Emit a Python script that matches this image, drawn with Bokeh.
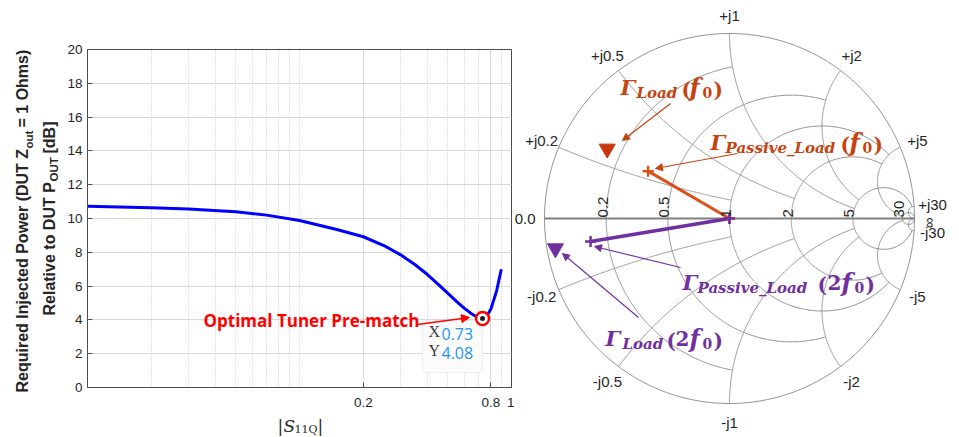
import numpy as np
from bokeh.plotting import figure
from bokeh.models import (Range1d, FixedTicker, Label, Arrow, NormalHead,
                          BoxAnnotation, CustomJSTickFormatter)
from bokeh.layouts import row, column
from bokeh.embed import file_html
from bokeh.resources import INLINE

# ---------------- data: left panel ----------------
s11q = [0.010, 0.020, 0.030, 0.050, 0.070, 0.100, 0.150, 0.200, 0.250, 0.300,
        0.350, 0.400, 0.450, 0.500, 0.550, 0.600, 0.650, 0.700, 0.730, 0.760,
        0.800, 0.850, 0.895]
p_inj = [10.72, 10.64, 10.56, 10.40, 10.20, 9.88, 9.35, 8.92, 8.40, 7.85,
         7.28, 6.70, 6.12, 5.58, 5.10, 4.68, 4.35, 4.12, 4.08, 4.18,
         4.65, 5.70, 7.00]
opt_x = [0.73]
opt_y = [4.08]
y_ticks = [0, 2, 4, 6, 8, 10, 12, 14, 16, 18, 20]
x_ticks = [0.2, 0.8, 1.0]
x_minor = [0.02, 0.03, 0.04, 0.05, 0.06, 0.07, 0.08, 0.09, 0.1,
           0.3, 0.4, 0.5, 0.6, 0.7, 0.9]

# ---------------- data: Smith chart ----------------
smith_values = [0.2, 0.5, 1, 2, 5, 30]
smith_limits = [1, 2, 5, 5, 30, np.inf]
gamma_passive_f0 = [-0.440, 0.256]
gamma_load_f0 = [-0.661, 0.377]
gamma_passive_2f0 = [-0.751, -0.124]
gamma_load_2f0 = [-0.941, -0.162]

AX = "#4d4d4d"
TXT = "#262626"
ORANGE_LINE = "#D95319"
ORANGE_TXT = "#C5430F"
ORANGE_MK = "#C8360A"
PURPLE = "#7030A0"

PAGE_H = 436


def blank(x0, x1, y0, y1, bl=0, br=0):
    """figure whose data coordinates are page pixels (y downward)"""
    f = figure(width=(x1 - x0) + bl + br, height=y1 - y0,
               frame_width=x1 - x0, frame_height=y1 - y0,
               x_range=Range1d(x0, x1), y_range=Range1d(y1, y0),
               output_backend="svg", toolbar_location=None, title=None,
               x_axis_location=None, y_axis_location=None,
               min_border=0, min_border_left=bl, min_border_right=br)
    f.outline_line_color = None
    f.grid.visible = False
    return f


# ================= left panel =================
FL, FT, FR, FB = 87, 49, 511, 387
DEC = (FR - FL) / 2.0
P_X0, P_X1 = 62, 514
P_H = 410


def lx(px):
    return 10 ** (-2 + (px - FL) / DEC)


def ly(py):
    return (FB - py) / (FB - FT) * 20.0


p = figure(width=P_X1 - P_X0, height=P_H,
           frame_width=FR - FL, frame_height=FB - FT,
           x_axis_type="log", x_range=Range1d(0.01, 1), y_range=Range1d(0, 20),
           output_backend="svg", toolbar_location=None, title=None,
           min_border_left=FL - P_X0, min_border_right=P_X1 - FR,
           min_border_top=FT, min_border_bottom=P_H - FB)

for ax in (p.xaxis[0], p.yaxis[0]):
    ax.axis_line_color = AX
    ax.major_tick_line_color = AX
    ax.major_tick_in = 5
    ax.major_tick_out = 0
    ax.minor_tick_line_color = None
    ax.major_label_text_font = "Liberation Sans"
    ax.major_label_text_font_size = "13.5px"
    ax.major_label_text_color = TXT

p.xaxis.ticker = FixedTicker(ticks=x_ticks, minor_ticks=x_minor)
p.xaxis.formatter = CustomJSTickFormatter(code="return String(tick);")
p.xaxis.major_label_standoff = 6
p.yaxis.ticker = FixedTicker(ticks=y_ticks)
p.yaxis.major_label_standoff = 5

p.xgrid.grid_line_color = "#D9D9D9"
p.xgrid.minor_grid_line_color = "#C4C4C4"
p.xgrid.minor_grid_line_dash = "1 2"
p.ygrid.grid_line_color = "#D9D9D9"
p.outline_line_color = AX

# data tip box (under glyphs)
p.add_layout(BoxAnnotation(left=lx(422), right=lx(482), top=ly(320), bottom=ly(372),
                           fill_color="#FBFBFB", fill_alpha=1.0, border_radius=3,
                           line_color="#CFCFCF", line_width=1, level="underlay"))

p.line(s11q, p_inj, line_color="#0000FF", line_width=3)
p.scatter(opt_x, opt_y, marker="circle", size=13, fill_color="white",
          line_color="#FF0000", line_width=2.5)
p.scatter(opt_x, opt_y, marker="circle", size=5, fill_color="#1a1a1a", line_color=None)

p.add_layout(Label(x=lx(203), y=ly(331), text="Optimal Tuner Pre-match",
                   text_font="Open Sans", text_font_style="bold",
                   text_font_size="17px", text_color="#FF0000"))
p.add_layout(Arrow(end=NormalHead(size=8, fill_color="#FF0000", line_color="#FF0000"),
                   x_start=lx(417), y_start=ly(324), x_end=lx(469), y_end=ly(317),
                   line_color="#FF0000", line_width=1.5))

p.add_layout(Label(x=lx(428), y=ly(339), text="X", text_font="Liberation Serif",
                   text_font_size="16px", text_color="#404040"))
p.add_layout(Label(x=lx(441), y=ly(339), text=f"{opt_x[0]:.2f}", text_font="Open Sans",
                   text_font_size="16px", text_color="#1E96F0"))
p.add_layout(Label(x=lx(428), y=ly(358), text="Y", text_font="Liberation Serif",
                   text_font_size="16px", text_color="#404040"))
p.add_layout(Label(x=lx(441), y=ly(358), text=f"{opt_y[0]:.2f}", text_font="Open Sans",
                   text_font_size="16px", text_color="#1E96F0"))

# y axis label figure (page pixels)
ylf = blank(0, P_X0, 0, PAGE_H)


def ylab(px, py, text, size):
    ylf.add_layout(Label(x=px, y=py, text=text, angle=90, angle_units="deg",
                         text_align="left", text_baseline="middle",
                         text_font="Liberation Sans", text_font_style="bold",
                         text_font_size=size, text_color=TXT))


ylab(21.5, 392, "Required Injected Power (DUT Z", "16px")
ylab(28.0, 148.0, "out", "11.5px")
ylab(21.5, 127.0, " = 1 Ohms)", "16px")
ylab(48.5, 315, "Relative to DUT P", "16px")
ylab(53.5, 181.0, "OUT", "11.5px")
ylab(48.5, 153.0, " [dB]", "16px")

# x axis label figure (page pixels), same side borders as the plot
xlf = blank(FL, FR, P_H, PAGE_H, bl=FL - P_X0, br=P_X1 - FR)


def xlab(px, py, text, size, style="normal"):
    xlf.add_layout(Label(x=px, y=py, text=text, text_align="left",
                         text_baseline="alphabetic", text_font="DejaVu Serif",
                         text_font_style=style, text_font_size=size, text_color=TXT))


xlab(277, 425, "|", "17px")
xlab(283, 425, "S", "17px", "italic")
xlab(294, 429, "11Q", "11px")
xlab(317, 425, "|", "17px")

# ================= Smith chart =================
SC, CXP, CYP = 185.0, 729.0, 218.0
W2 = 958 - P_X1
q = figure(width=W2, height=PAGE_H, frame_width=W2, frame_height=PAGE_H,
           x_range=Range1d((P_X1 - CXP) / SC, (958 - CXP) / SC),
           y_range=Range1d((CYP - PAGE_H) / SC, CYP / SC),
           output_backend="svg", toolbar_location=None, title=None,
           x_axis_location=None, y_axis_location=None, min_border=0)
q.outline_line_color = None
q.grid.visible = False


def gamma(z):
    return (z - 1) / (z + 1)


gx, gy = [], []
for v, lim in zip(smith_values, smith_limits):
    tmax = np.arctan(lim) if np.isfinite(lim) else np.pi / 2 - 1e-5
    th = np.linspace(-tmax, tmax, 500)
    g = gamma(v + 1j * np.tan(th))
    gx.append(g.real.tolist()); gy.append(g.imag.tolist())
    ph = np.linspace(0, tmax, 400)
    for s in (1, -1):
        g = gamma(np.tan(ph) + 1j * s * v)
        gx.append(g.real.tolist()); gy.append(g.imag.tolist())
t = np.linspace(0, 2 * np.pi, 600)
gx.append(np.cos(t).tolist()); gy.append(np.sin(t).tolist())
q.multi_line(gx, gy, line_color="#8F8F8F", line_width=1)
q.line([-1, 1], [0, 0], line_color="#808080", line_width=1.8)

LBL = dict(text_font="Liberation Sans", text_font_size="15px", text_color=TXT)
for v in smith_values:
    for s, sign in ((1, "+"), (-1, "-")):
        g = gamma(1j * s * v) * 1.1
        q.add_layout(Label(x=g.real, y=g.imag, text=f"{sign}j{v:g}",
                           text_align="center", text_baseline="middle", **LBL))
    rg = gamma(v + 0j).real
    q.add_layout(Label(x=rg - 0.019, y=0.006, text=f"{v:g}", angle=90, angle_units="deg",
                       text_align="left", text_baseline="alphabetic", **LBL))
q.add_layout(Label(x=-1.0486, y=0, text="0.0", text_align="right",
                   text_baseline="middle", **LBL))
q.add_layout(Label(x=1.073, y=-0.024, text="\u221e", angle=90, angle_units="deg",
                   text_align="center", text_baseline="middle", **LBL))

# series
q.line([0, gamma_passive_f0[0]], [0, gamma_passive_f0[1]], line_color=ORANGE_LINE, line_width=3)
q.scatter([0, gamma_passive_f0[0]], [0, gamma_passive_f0[1]], marker="cross", size=11,
          line_color=ORANGE_LINE, line_width=2.5)
q.line([0, gamma_passive_2f0[0]], [0, gamma_passive_2f0[1]], line_color=PURPLE, line_width=3.5)
q.scatter([0, gamma_passive_2f0[0]], [0, gamma_passive_2f0[1]], marker="cross", size=11,
          line_color=PURPLE, line_width=2.5)
q.scatter([gamma_load_f0[0]], [gamma_load_f0[1]], marker="inverted_triangle", size=16,
          fill_color=ORANGE_MK, line_color=ORANGE_MK)
q.scatter([gamma_load_2f0[0]], [gamma_load_2f0[1]], marker="inverted_triangle", size=16,
          fill_color=PURPLE, line_color=PURPLE)


def gp(px, py):
    return (px - CXP) / SC, (CYP - py) / SC


def arrow(p0, p1, color):
    a, b = gp(*p0)
    c, d = gp(*p1)
    q.add_layout(Arrow(end=NormalHead(size=7, fill_color=color, line_color=color),
                       x_start=a, y_start=b, x_end=c, y_end=d,
                       line_color=color, line_width=1.2))


arrow((670, 103), (622, 140), ORANGE_TXT)
arrow((737, 153), (655, 168), ORANGE_TXT)
arrow((680, 267), (594, 246), PURPLE)
arrow((638, 317), (562, 253), PURPLE)


def math_label(items, color):
    for px, py, text, size, style in items:
        a, b = gp(px, py)
        q.add_layout(Label(x=a, y=b, text=text, text_align="left",
                           text_baseline="alphabetic", text_font="DejaVu Serif",
                           text_font_style=style, text_font_size=size, text_color=color))


BI, B = "bold italic", "bold"
math_label([(620, 87, "\u0393", "21px", BI), (636, 92, "Load", "15px", BI),
            (681, 89, "(", "20px", B), (689, 87, "f", "24px", BI),
            (702, 92, "0", "14px", B), (713, 89, ")", "20px", B)], ORANGE_TXT)
math_label([(710, 142, "\u0393", "21px", BI), (725, 147, "Passive_Load", "15px", BI),
            (840, 144, "(", "20px", B), (849, 142, "f", "24px", BI),
            (862, 147, "0", "14px", B), (873, 144, ")", "20px", B)], ORANGE_TXT)
math_label([(682, 282, "\u0393", "21px", BI), (697, 287, "Passive_Load", "15px", BI),
            (817, 284, "(", "20px", B), (827, 282, "2", "20px", B),
            (841, 282, "f", "24px", BI), (854, 287, "0", "14px", B),
            (865, 284, ")", "20px", B)], PURPLE)
math_label([(605, 338, "\u0393", "21px", BI), (622, 343, "Load", "15px", BI),
            (666, 340, "(", "20px", B), (675, 338, "2", "20px", B),
            (689, 338, "f", "24px", BI), (702, 343, "0", "14px", B),
            (713, 340, ")", "20px", B)], PURPLE)

layout = row(ylf, column(p, xlf), q)
open("out.html", "w").write(file_html(layout, INLINE))
